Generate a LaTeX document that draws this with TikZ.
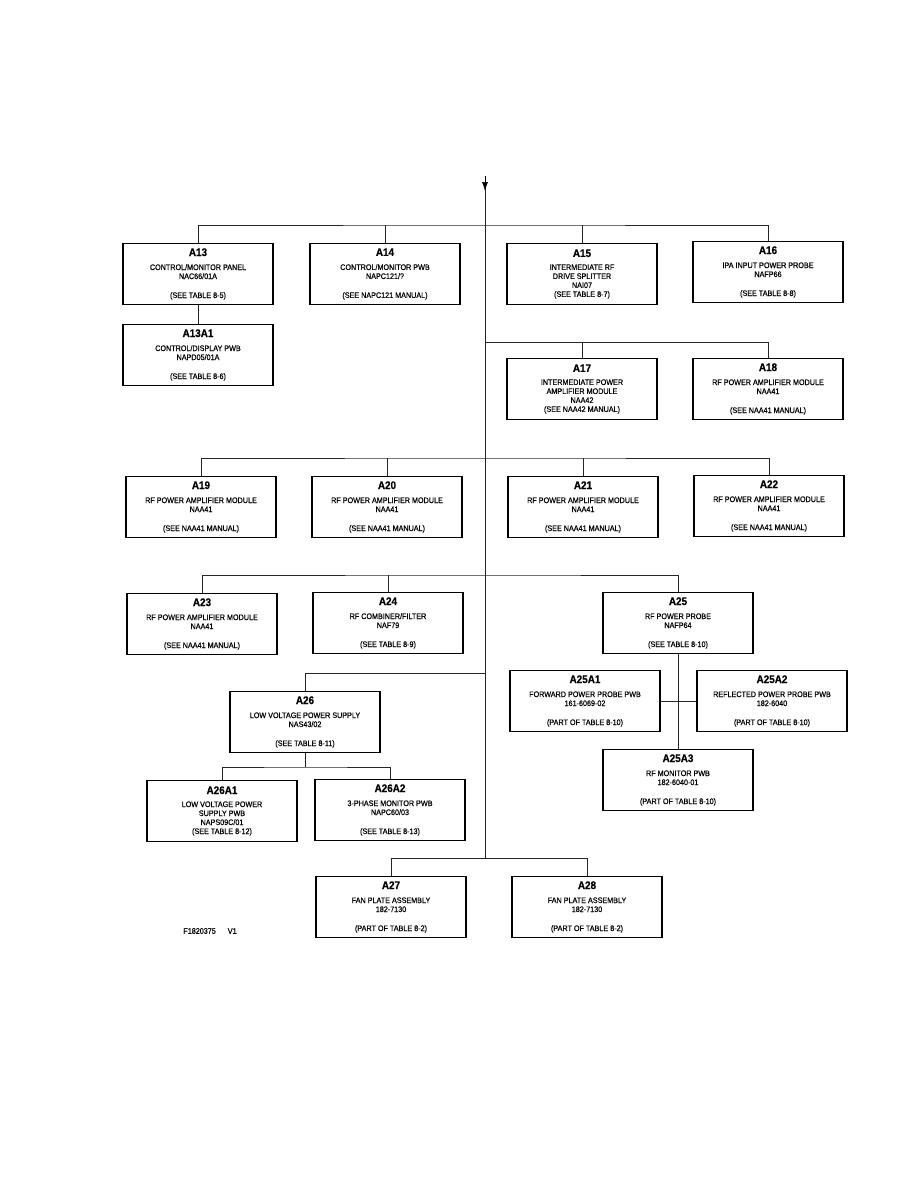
\documentclass[tikz,border=0pt]{standalone}
\usepackage{fontspec}
\setmainfont{Liberation Sans}
\newfontfamily\plotfont[FakeStretch=0.9, FakeBold=0.5]{Liberation Sans}
\usetikzlibrary{arrows.meta}

\newcommand{\modname}[1]{{\fontsize{11}{11}\selectfont\bfseries #1}}

\begin{document}
\begin{tikzpicture}[x=1pt, y=-1pt,
    modbox/.style={draw, line width=1.3pt, minimum width=150pt, minimum height=61pt,
        inner sep=0pt, align=center, font=\plotfont\fontsize{8}{9}\selectfont},
    link/.style={line width=0.7pt, black!85}]

    \useasboundingbox (0,0) rectangle (918,1188);

    % Main feed
    \coordinate (top) at (485,176);
    \coordinate (tip) at (485,191);
    \coordinate (bottom) at (485,858);
    \coordinate (bus1) at (485,225);
    \coordinate (bus2) at (485,342);
    \coordinate (bus3) at (485,458);
    \coordinate (bus4) at (485,575);
    \coordinate (bus5) at (485,673);
    \coordinate (bus6) at (305,767);

    % First row
    \node[modbox] (a13) at (198,274) {\modname{A13}\\[5pt] CONTROL/MONITOR PANEL\\ NAC66/01A\\[10pt] (SEE TABLE 8-5)};
    \node[modbox] (a14) at (385,274) {\modname{A14}\\[5pt] CONTROL/MONITOR PWB\\ NAPC121/?\\[10pt] (SEE NAPC121 MANUAL)};
    \node[modbox] (a15) at (582,274) {\modname{A15}\\[4pt] INTERMEDIATE RF\\ DRIVE SPLITTER\\ NAI07\\ (SEE TABLE 8-7)};
    \node[modbox] (a16) at (768,272) {\modname{A16}\\[5pt] IPA INPUT POWER PROBE\\ NAFP66\\[10pt] (SEE TABLE 8-8)};
    \node[modbox] (a13a1) at (198,355) {\modname{A13A1}\\[5pt] CONTROL/DISPLAY PWB\\ NAPD05/01A\\[10pt] (SEE TABLE 8-6)};

    % Second row
    \node[modbox] (a17) at (582,389) {\modname{A17}\\[4pt] INTERMEDIATE POWER\\ AMPLIFIER MODULE\\ NAA42\\ (SEE NAA42 MANUAL)};
    \node[modbox] (a18) at (768,389) {\modname{A18}\\[5pt] RF POWER AMPLIFIER MODULE\\ NAA41\\[10pt] (SEE NAA41 MANUAL)};

    % Third row
    \node[modbox] (a19) at (201,507) {\modname{A19}\\[5pt] RF POWER AMPLIFIER MODULE\\ NAA41\\[10pt] (SEE NAA41 MANUAL)};
    \node[modbox] (a20) at (387,507) {\modname{A20}\\[5pt] RF POWER AMPLIFIER MODULE\\ NAA41\\[10pt] (SEE NAA41 MANUAL)};
    \node[modbox] (a21) at (583,507) {\modname{A21}\\[5pt] RF POWER AMPLIFIER MODULE\\ NAA41\\[10pt] (SEE NAA41 MANUAL)};
    \node[modbox] (a22) at (769,506) {\modname{A22}\\[5pt] RF POWER AMPLIFIER MODULE\\ NAA41\\[10pt] (SEE NAA41 MANUAL)};

    % Fourth row
    \node[modbox] (a23) at (202,624) {\modname{A23}\\[5pt] RF POWER AMPLIFIER MODULE\\ NAA41\\[10pt] (SEE NAA41 MANUAL)};
    \node[modbox] (a24) at (388,623) {\modname{A24}\\[5pt] RF COMBINER/FILTER\\ NAF79\\[10pt] (SEE TABLE 8-9)};
    \node[modbox] (a25) at (678,623) {\modname{A25}\\[5pt] RF POWER PROBE\\ NAFP64\\[10pt] (SEE TABLE 8-10)};
    \node[modbox] (a25a1) at (585,701) {\modname{A25A1}\\[5pt] FORWARD POWER PROBE PWB\\ 161-6069-02\\[10pt] (PART OF TABLE 8-10)};
    \node[modbox] (a25a2) at (772,701) {\modname{A25A2}\\[5pt] REFLECTED POWER PROBE PWB\\ 182-6040\\[10pt] (PART OF TABLE 8-10)};
    \node[modbox] (a25a3) at (678,780) {\modname{A25A3}\\[5pt] RF MONITOR PWB\\ 182-6040-01\\[10pt] (PART OF TABLE 8-10)};

    % Power supply
    \node[modbox] (a26) at (305,722) {\modname{A26}\\[5pt] LOW VOLTAGE POWER SUPPLY\\ NAS43/02\\[10pt] (SEE TABLE 8-11)};
    \node[modbox] (a26a1) at (222,811) {\modname{A26A1}\\[4pt] LOW VOLTAGE POWER\\ SUPPLY PWB\\ NAPS09C/01\\ (SEE TABLE 8-12)};
    \node[modbox] (a26a2) at (390,810) {\modname{A26A2}\\[5pt] 3-PHASE MONITOR PWB\\ NAPC60/03\\[10pt] (SEE TABLE 8-13)};

    % Fans
    \node[modbox] (a27) at (391,907) {\modname{A27}\\[5pt] FAN PLATE ASSEMBLY\\ 182-7130\\[10pt] (PART OF TABLE 8-2)};
    \node[modbox] (a28) at (587,907) {\modname{A28}\\[5pt] FAN PLATE ASSEMBLY\\ 182-7130\\[10pt] (PART OF TABLE 8-2)};

    \node[font=\plotfont\fontsize{8}{9}\selectfont] (figid) at (210,931) {F1820375\hspace{12pt}V1};

    % Connections
    \draw[link] (top) -- (bottom);
    \draw[line width=0.7pt, -{Latex[length=9pt, width=6pt, fill=black]}] (top) -- (tip);
    \draw[link] (a13.north) |- (bus1) -| (a16.north);
    \draw[link] (a14.north) -- (a14.north |- bus1);
    \draw[link] (a15.north) -- (a15.north |- bus1);
    \draw[link] (a13.south) -- (a13a1.north);
    \draw[link] (bus2) -| (a18.north);
    \draw[link] (a17.north) -- (a17.north |- bus2);
    \draw[link] (a19.north) |- (bus3) -| (a22.north);
    \draw[link] (a20.north) -- (a20.north |- bus3);
    \draw[link] (a21.north) -- (a21.north |- bus3);
    \draw[link] (a23.north) |- (bus4) -| (a25.north);
    \draw[link] (a24.north) -- (a24.north |- bus4);
    \draw[link] (a25.south) -- (a25a3.north);
    \draw[link] (a25a1.east) -- (a25a2.west);
    \draw[link] (bus5) -| (a26.north);
    \draw[link] (a26.south) -- (bus6);
    \draw[link] (a26a1.north) |- (bus6) -| (a26a2.north);
    \draw[link] (a27.north) |- (bottom) -| (a28.north);

\end{tikzpicture}
\end{document}
